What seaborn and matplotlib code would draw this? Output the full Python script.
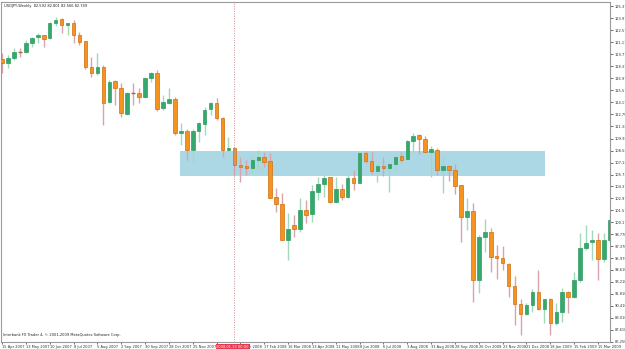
import numpy as np
import pandas as pd
import matplotlib
matplotlib.use("Agg")
import matplotlib.pyplot as plt
from matplotlib.patches import Rectangle
import seaborn as sns

# ---- data (USDJPY weekly) ----
opens = [119.19, 118.73, 119.31, 120.01, 120.01, 121.06, 121.76, 121.99, 121.64, 123.39,
         123.86, 123.16, 123.39, 121.99, 121.29, 118.26, 117.56, 118.26, 114.18, 116.63,
         115.81, 112.78, 115.23, 115.23, 114.76, 116.98, 117.56, 113.48, 114.07, 114.53,
         110.57, 110.80, 108.59, 110.80, 111.62, 113.37, 114.07, 112.32, 108.59, 108.82,
         106.84, 106.72, 106.49, 107.42, 107.77, 107.31, 103.11, 102.29, 98.10, 99.85,
         99.38, 101.59, 101.13, 103.69, 104.62, 105.44, 102.53, 104.04, 103.11, 105.32,
         104.74, 108.24, 107.31, 106.14, 106.72, 106.49, 106.96, 107.89, 107.54, 109.64,
         110.34, 109.87, 108.35, 108.59, 106.26, 106.72, 106.26, 104.51, 100.78, 101.48,
         93.44, 98.45, 99.03, 96.23, 96.00, 95.30, 92.74, 90.64, 89.47, 90.52,
         92.04, 90.06, 91.22, 88.43, 89.71, 92.04, 91.45, 93.44, 97.17, 97.86,
         98.10, 95.88, 98.10]
highs = [119.89, 119.66, 120.48, 120.48, 121.41, 121.76, 122.22, 122.05, 123.51, 124.09,
         123.97, 123.45, 123.74, 122.34, 121.35, 119.43, 119.89, 118.49, 116.75, 116.70,
         116.40, 115.35, 116.40, 115.81, 117.10, 117.68, 117.91, 115.00, 115.81, 114.76,
         111.73, 111.03, 111.03, 111.85, 113.60, 114.18, 114.65, 112.43, 110.10, 108.94,
         107.77, 107.42, 108.00, 108.59, 108.35, 108.24, 104.16, 103.58, 101.24, 101.01,
         102.99, 102.76, 104.51, 105.44, 105.67, 105.50, 105.44, 104.62, 105.67, 106.26,
         108.35, 108.47, 108.35, 107.07, 107.77, 107.07, 107.89, 108.35, 109.75, 110.57,
         110.45, 110.22, 109.05, 108.82, 108.00, 106.84, 106.96, 104.55, 102.99, 102.41,
         98.68, 100.55, 99.50, 97.52, 97.40, 95.42, 93.90, 91.22, 90.75, 92.39,
         94.60, 91.28, 91.34, 90.75, 92.50, 92.10, 94.37, 98.91, 99.85, 99.26,
         98.91, 98.91, 101.01]
lows = [117.56, 118.14, 119.08, 119.43, 119.89, 120.59, 121.06, 120.59, 121.52, 123.04,
        122.22, 121.99, 121.06, 120.83, 118.03, 117.10, 117.33, 111.50, 114.07, 113.83,
        112.43, 112.67, 113.83, 114.07, 114.70, 116.51, 113.13, 113.25, 114.00, 110.34,
        109.17, 107.42, 107.07, 109.52, 110.34, 112.67, 112.08, 107.77, 108.35, 105.67,
        104.86, 105.67, 105.91, 106.26, 106.61, 102.95, 101.36, 98.05, 95.77, 98.45,
        99.03, 100.08, 100.20, 102.76, 103.11, 102.41, 102.45, 102.76, 103.05, 103.93,
        104.70, 107.07, 105.79, 104.86, 105.56, 103.69, 106.02, 107.19, 107.42, 108.35,
        108.12, 108.24, 105.44, 105.67, 103.58, 104.97, 103.46, 97.86, 99.26, 90.87,
        91.92, 96.70, 94.37, 93.55, 94.60, 91.45, 88.19, 87.03, 89.36, 89.71,
        89.94, 88.43, 87.03, 88.19, 88.54, 89.59, 91.34, 93.20, 96.93, 95.77,
        93.44, 95.54, 97.86]
closes = [118.73, 119.31, 120.01, 120.01, 121.06, 121.64, 121.99, 121.52, 123.39, 123.74,
          123.16, 123.39, 121.99, 121.17, 118.26, 117.56, 118.26, 114.07, 116.51, 115.81,
          112.90, 115.23, 115.23, 114.76, 116.98, 117.56, 113.37, 114.18, 114.53, 110.57,
          110.80, 108.59, 110.80, 111.73, 113.25, 114.07, 112.32, 108.59, 108.82, 106.84,
          106.61, 106.49, 107.42, 107.77, 107.19, 102.99, 102.29, 98.10, 99.38, 99.38,
          101.59, 101.01, 103.81, 104.62, 105.32, 102.53, 104.04, 103.11, 105.32, 104.74,
          108.24, 107.31, 106.14, 106.72, 106.49, 106.96, 107.77, 107.42, 109.64, 110.22,
          109.87, 108.35, 108.70, 106.26, 106.72, 106.26, 104.39, 100.78, 101.48, 93.44,
          98.45, 99.03, 96.12, 96.00, 95.42, 92.74, 90.64, 89.47, 90.52, 92.04,
          90.06, 91.22, 88.43, 89.71, 92.04, 91.45, 93.44, 97.17, 97.75, 98.10,
          95.88, 98.10, 100.43]

date_labels = ["15 Apr 2007", "13 May 2007", "10 Jun 2007", "8 Jul 2007", "5 Aug 2007",
               "2 Sep 2007", "30 Sep 2007", "28 Oct 2007", "25 Nov 2007", "23 Dec 2007",
               "20 Jan 2008", "17 Feb 2008", "16 Mar 2008", "13 Apr 2008", "11 May 2008",
               "8 Jun 2008", "6 Jul 2008", "3 Aug 2008", "31 Aug 2008", "28 Sep 2008",
               "26 Oct 2008", "23 Nov 2008", "21 Dec 2008", "18 Jan 2009", "15 Feb 2009",
               "15 Mar 2009"]
price_ticks = [125.370, 123.970, 122.570, 121.170, 119.770, 118.370, 116.970, 115.570,
               114.170, 112.750, 111.330, 109.920, 108.520, 107.130, 105.730, 104.370,
               102.970, 101.570, 100.170, 98.770, 97.370, 95.970, 94.610, 93.210,
               91.810, 90.410, 89.010, 87.610, 86.250]
zone_low, zone_high = 105.56, 108.47
zone_start, zone_end = 29.87, 91.1
cursor_bar = 39
cursor_label = "2008.01.13 00:00"
title_text = "USDJPY,Weekly  82.592 82.801 82.566 82.749"
footer_text = "Interbank FX Trader 4, \u00a9 2001-2009 MetaQuotes Software Corp."

df = pd.DataFrame({"open": opens, "high": highs, "low": lows, "close": closes})
df["idx"] = np.arange(len(df))

sns.set_style("white")
plt.rcParams["font.family"] = ["DejaVu Sans"]

fig = plt.figure(figsize=(6.25, 3.49), dpi=100)
ax = fig.add_axes([0.0016, 0.02006, 0.9744, 0.9742])

BULL = "#35a96c"
BULL_EDGE = "#2f9b62"
BEAR = "#f6921e"
BEAR_EDGE = "#cf6f12"
BULL_WICK = "#a3d9bb"
BEAR_WICK = "#d9a3ab"
FS = 2.6

# zone
ax.add_patch(Rectangle((zone_start, zone_low), zone_end - zone_start, zone_high - zone_low,
                       facecolor="#acd8e6", edgecolor="none", zorder=1))

bull = df["close"] > df["open"]
doji = (df["close"] - df["open"]).abs() < 0.02

wick_colors = [BULL_WICK if b else BEAR_WICK for b in bull]
ax.vlines(df["idx"], df["low"], df["high"], colors=wick_colors, linewidth=1.0, zorder=2)

body_bottom = np.minimum(df["open"], df["close"])
body_h = (df["close"] - df["open"]).abs()
body_h = np.where(doji, 0.06, body_h)
face = [BULL if b else BEAR for b in bull]
edge = [BULL_EDGE if b else BEAR_EDGE for b in bull]
for i in range(len(df)):
    if doji.iloc[i]:
        ax.hlines(df["open"].iloc[i], i - 0.32, i + 0.32, colors="#b0603a", linewidth=1.0, zorder=3)
    else:
        ax.bar(i, body_h[i], bottom=body_bottom.iloc[i], width=0.6, color=face[i],
               edgecolor=edge[i], linewidth=0.5, zorder=3)

# cursor line
ax.axvline(cursor_bar, color="#c89090", linestyle=(0, (1, 1.5)), linewidth=0.7, zorder=4,
           clip_on=False)

ax.set_xlim(-0.17, 102.01)
ax.set_ylim(86.21, 125.84)

# y axis on right
ax.yaxis.tick_right()
ax.set_yticks(price_ticks)
ax.set_yticklabels([f"{v:.3f}" for v in price_ticks])
ax.tick_params(axis="y", which="both", right=True, length=2, width=0.5, pad=1.5,
               labelsize=FS, colors="#333333")

xt = list(range(0, 101, 4))
ax.set_xticks(xt)
ax.set_xticklabels(date_labels, ha="left")
ax.tick_params(axis="x", which="both", bottom=True, length=1.5, width=0.5, pad=0.8,
               labelsize=FS, colors="#333333")

for s in ["left", "top", "right", "bottom"]:
    ax.spines[s].set_color("#9a9a9a")
    ax.spines[s].set_linewidth(0.8)

ax.text(0.005, 0.993, title_text, transform=ax.transAxes, fontsize=FS, va="top",
        ha="left", color="#222222")
ax.text(0.003, 0.015, footer_text, transform=ax.transAxes, fontsize=FS, va="bottom",
        ha="left", color="#222222")
ax.text(cursor_bar - 0.3, -0.008, cursor_label, transform=ax.get_xaxis_transform(),
        fontsize=FS, va="top", ha="center", color="white", zorder=10, clip_on=False,
        bbox=dict(boxstyle="square,pad=0.2", facecolor="#e8384f", edgecolor="none"))

fig.savefig("out.png", dpi=100)
